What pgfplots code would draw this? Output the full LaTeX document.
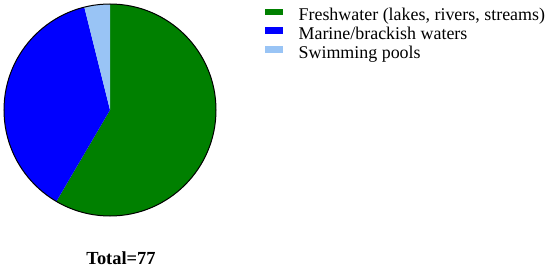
\documentclass[border=0pt]{standalone}
\usepackage{fontspec}
\setmainfont{Liberation Serif}
\usepackage{pgfplots}
\pgfplotsset{compat=1.18}
\definecolor{fresh}{RGB}{0,128,0}
\definecolor{marine}{RGB}{0,0,255}
\definecolor{pools}{RGB}{153,196,245}
\begin{document}
\begin{tikzpicture}
% counts per water type
\def\vFresh{45}
\def\vMarine{29}
\def\vPools{3}
\pgfmathsetmacro{\tot}{\vFresh+\vMarine+\vPools}
\pgfmathsetmacro{\aA}{90-360*\vFresh/\tot}
\pgfmathsetmacro{\aB}{\aA-360*\vMarine/\tot}
\pgfmathsetmacro{\aC}{\aB-360*\vPools/\tot}
\begin{axis}[
    scale only axis,
    width=550bp, height=270bp,
    xmin=0, xmax=550, ymin=0, ymax=270,
    hide axis,
    clip=false,
    legend style={at={(axis cs:265,263.5)}, anchor=north west, draw=none, fill=none,
        font=\fontsize{18}{19}\selectfont, row sep=0pt, column sep=16bp,
        inner sep=0pt,
        nodes={inner xsep=0pt, inner ysep=1bp, text height=13bp, text depth=4bp}},
    legend cell align=left,
    legend image code/.code={\fill[#1] (0bp,2bp) rectangle (17bp,7.5bp);},
]
\fill[fresh] (axis cs:110,160) -- ++(90:106bp) arc[start angle=90, end angle=\aA, radius=106bp] -- cycle;
\fill[marine] (axis cs:110,160) -- ++(\aA:106bp) arc[start angle=\aA, end angle=\aB, radius=106bp] -- cycle;
\fill[pools] (axis cs:110,160) -- ++(\aB:106bp) arc[start angle=\aB, end angle=\aC, radius=106bp] -- cycle;
\draw[black, line width=1bp] (axis cs:110,160) circle[radius=106bp];
\addlegendimage{fresh}
\addlegendentry{Freshwater (lakes, rivers, streams)}
\addlegendimage{marine}
\addlegendentry{Marine/brackish waters}
\addlegendimage{pools}
\addlegendentry{Swimming pools}
\node[font=\bfseries\fontsize{18.5}{20}\selectfont, anchor=base] at (axis cs:121,6) {Total=77};
\end{axis}
\pgfresetboundingbox
\path (0,0) rectangle (550bp,270bp);
\end{tikzpicture}
\end{document}
